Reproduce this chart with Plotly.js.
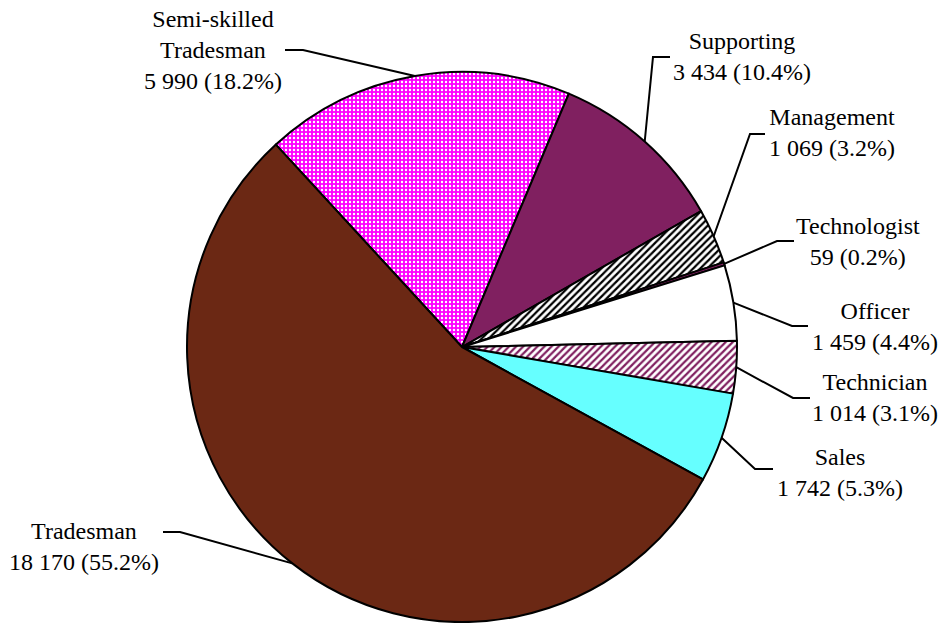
<!DOCTYPE html>
<html>
<head>
<meta charset="utf-8">
<script src="https://cdn.plot.ly/plotly-3.0.1.min.js"></script>
<style>html,body{margin:0;padding:0;background:#fff;}</style>
</head>
<body>
<div id="chart" style="width:941px;height:623px;"></div>
<script>
// Staff by occupational group
const categories = ['Semi-skilled Tradesman', 'Supporting', 'Management', 'Technologist', 'Officer', 'Technician', 'Sales', 'Tradesman'];
const labelLines = [['Semi-skilled', 'Tradesman'], ['Supporting'], ['Management'], ['Technologist'], ['Officer'], ['Technician'], ['Sales'], ['Tradesman']];
const counts = [5990, 3434, 1069, 59, 1459, 1014, 1742, 18170];

// Slice styling
const fillColors = ['#FF00FF', '#802060', '#FFFFFF', '#802060', '#FFFFFF', '#FFFFFF', '#66FFFF', '#6B2814'];
const patternShapes = ['.', '', '/', '', '', '/', '', ''];
const patternColors = ['#FFFFFF', '#000000', '#000000', '#000000', '#000000', '#802060', '#000000', '#000000'];
const patternSizes = [4, 5, 5, 5, 5, 5, 5, 5];
const patternSolidity = [0.28, 0.5, 0.45, 0.5, 0.5, 0.45, 0.5, 0.5];

// Page geometry (pixels)
const W = 941, H = 623;
const CX = 462, CY = 347, R = 275;
const ROTATION = -42.6;
const FONT = 'Liberation Serif, Times New Roman, serif';

// Label block centres and leader-line bend / end points (pixels)
const labelPos = [[213, 50], [742, 57], [832, 132], [858, 241], [875, 326], [875, 397], [840, 472], [84, 546]];
const leaderBend = [[303, 50], [653, 57], [750, 134], [777, 241], [792, 326], [793, 398], [755, 469], [180, 532]];
const leaderEnd = [[285, 50], [670, 57], [765, 134], [794, 241], [808, 326], [810, 398], [773, 469], [163, 532]];

const px = x => x / W;
const py = y => 1 - y / H;
const total = counts.reduce((a, b) => a + b, 0);
const fmt = n => String(n).replace(/\B(?=(\d{3})+(?!\d))/g, ' ');

const annotations = [];
const shapes = [];
let cum = 0;
counts.forEach((v, i) => {
  const pct = (v / total * 100).toFixed(1);
  const text = labelLines[i].concat([fmt(v) + ' (' + pct + '%)']).join('<br>');
  annotations.push({
    x: px(labelPos[i][0]), y: py(labelPos[i][1]), xref: 'paper', yref: 'paper',
    xanchor: 'center', yanchor: 'middle', align: 'center', showarrow: false,
    text: text, font: {family: FONT, size: 24, color: '#000'}
  });
  // leader line starts on the rim at the slice's middle angle
  const ang = (ROTATION + 360 * (cum + v / 2) / total) * Math.PI / 180;
  cum += v;
  const ex = CX + R * Math.sin(ang), ey = CY - R * Math.cos(ang);
  shapes.push({
    type: 'path', xref: 'paper', yref: 'paper',
    path: 'M ' + px(ex) + ',' + py(ey) + ' L ' + px(leaderBend[i][0]) + ',' + py(leaderBend[i][1]) +
          ' L ' + px(leaderEnd[i][0]) + ',' + py(leaderEnd[i][1]),
    line: {color: '#000', width: 2}
  });
});

const trace = {
  type: 'pie',
  labels: categories,
  values: counts,
  sort: false,
  direction: 'clockwise',
  rotation: ROTATION,
  textinfo: 'none',
  hoverinfo: 'label+value+percent',
  domain: {x: [px(CX - R), px(CX + R)], y: [py(CY + R), py(CY - R)]},
  marker: {
    colors: fillColors,
    line: {color: '#000000', width: 2},
    pattern: {
      shape: patternShapes,
      fgcolor: patternColors,
      bgcolor: fillColors,
      size: patternSizes,
      solidity: patternSolidity
    }
  }
};

const layout = {
  width: W, height: H,
  margin: {l: 0, r: 0, t: 0, b: 0},
  paper_bgcolor: '#ffffff',
  font: {family: FONT, size: 24, color: '#000'},
  showlegend: false,
  annotations: annotations,
  shapes: shapes
};

Plotly.newPlot('chart', [trace], layout, {displayModeBar: false, staticPlot: true});
</script>
</body>
</html>
